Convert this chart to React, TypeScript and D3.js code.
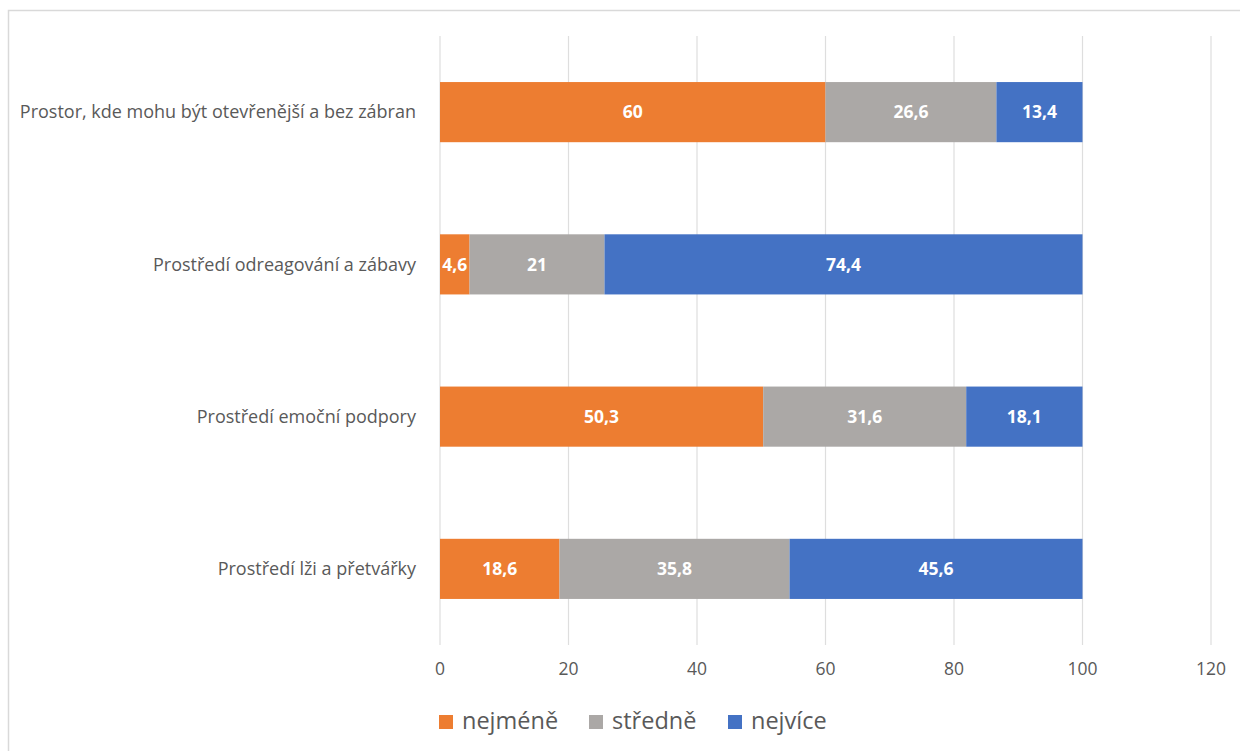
import React from "react";
import * as d3 from "d3";

const categories = [
  "Prostor, kde mohu být otevřenější a bez zábran",
  "Prostředí odreagování a zábavy",
  "Prostředí emoční podpory",
  "Prostředí lži a přetvářky",
];
const seriesNames = ["nejméně", "středně", "nejvíce"];
const nejmene = [60, 4.6, 50.3, 18.6];
const stredne = [26.6, 21, 31.6, 35.8];
const nejvice = [13.4, 74.4, 18.1, 45.6];
const xTicks = [0, 20, 40, 60, 80, 100, 120];
const colors = ["#ED7D31", "#ABA8A6", "#4472C4"];

const W = 1240;
const H = 751;
const plotLeft = 440;
const plotRight = 1211;
const plotTop = 36;
const plotBottom = 645;
const font = "'Open Sans', 'Noto Sans', sans-serif";

export default function App() {
  const x = d3.scaleLinear().domain([0, 120]).range([plotLeft, plotRight]);
  const y = d3
    .scaleBand<string>()
    .domain(categories)
    .range([plotTop, plotBottom])
    .paddingInner(0.605)
    .paddingOuter(0.3025);
  const values = [nejmene, stredne, nejvice];
  const stack = categories.map((c, i) => {
    let acc = 0;
    return values.map((vals, s) => {
      const x0 = acc;
      acc += vals[i];
      return { c, s, x0, x1: acc, v: vals[i] };
    });
  });
  const fmt = (v: number) => String(v).replace(".", ",");
  const legendX = [439, 589, 728];
  return (
    <svg
      width={W}
      height={H}
      style={{ position: "absolute", left: 0, top: 0, background: "#fff" }}
    >
      <path d={`M8.5,${H} V10.5 H${W}`} fill="none" stroke="#D9D9D9" strokeWidth={1.5} />
      {xTicks.map((t) => (
        <g key={t}>
          <line x1={x(t)} x2={x(t)} y1={plotTop} y2={plotBottom} stroke="#DEDEDE" strokeWidth={1.2} />
          <text
            x={x(t)}
            y={675}
            textAnchor="middle"
            fontFamily={font}
            fontSize={17.5}
            fill="#595959"
          >
            {t}
          </text>
        </g>
      ))}
      {stack.map((row) =>
        row.map((seg) => (
          <g key={seg.c + seg.s}>
            <rect
              x={x(seg.x0)}
              y={y(seg.c)!}
              width={x(seg.x1) - x(seg.x0)}
              height={y.bandwidth()}
              fill={colors[seg.s]}
            />
            <text
              x={(x(seg.x0) + x(seg.x1)) / 2}
              y={y(seg.c)! + y.bandwidth() / 2}
              dy="0.35em"
              textAnchor="middle"
              fontFamily={font}
              fontSize={17.5}
              fontWeight="bold"
              fill="#fff"
            >
              {fmt(seg.v)}
            </text>
          </g>
        ))
      )}
      {categories.map((c) => (
        <text
          key={c}
          x={416}
          y={y(c)! + y.bandwidth() / 2}
          dy="0.35em"
          textAnchor="end"
          fontFamily={font}
          fontSize={18}
          fill="#595959"
        >
          {c}
        </text>
      ))}
      {seriesNames.map((n, i) => (
        <g key={n}>
          <rect x={legendX[i]} y={715} width={14} height={14} fill={colors[i]} />
          <text x={legendX[i] + 23} y={729} fontFamily={font} fontSize={23.5} fill="#595959">
            {n}
          </text>
        </g>
      ))}
    </svg>
  );
}
